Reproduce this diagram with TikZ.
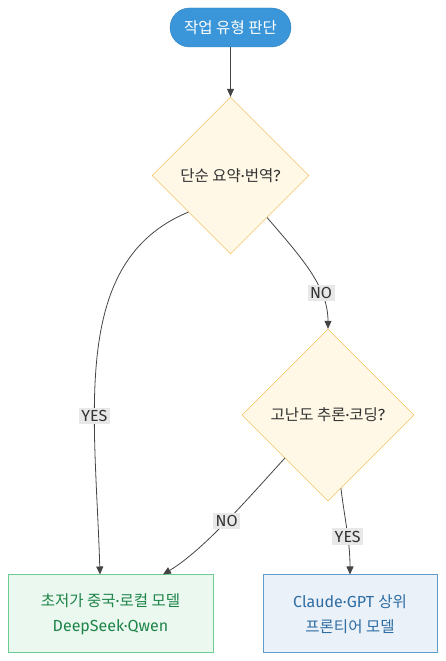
\documentclass[tikz,border=0pt]{standalone}
\usepackage{fontspec}
\setmainfont{Fira Sans}
\newfontfamily\kr[Scale=0.97]{Noto Sans CJK KR}
\usetikzlibrary{shapes.geometric,arrows.meta}

\definecolor{startfill}{HTML}{3A96D9}
\definecolor{startline}{HTML}{2F82C0}
\definecolor{askfill}{HTML}{FFF8E6}
\definecolor{askline}{HTML}{F5AE35}
\definecolor{cheapfill}{HTML}{EAF8EF}
\definecolor{cheapline}{HTML}{6CCB93}
\definecolor{cheaptext}{HTML}{1E8449}
\definecolor{topfill}{HTML}{EAF1F8}
\definecolor{topline}{HTML}{5F9CCB}
\definecolor{toptext}{HTML}{2E6DA4}
\definecolor{edgegray}{HTML}{444444}
\definecolor{labelfill}{HTML}{E8E8E8}

\tikzstyle{startnode}=[rectangle,rounded corners=19.5pt,draw=startline,fill=startfill,text=white,minimum width=121pt,minimum height=39pt,font=\fontsize{16}{20}\selectfont]
\tikzstyle{decision}=[diamond,aspect=1,draw=askline,fill=askfill,text=black!80,inner sep=0pt,font=\fontsize{16}{20}\selectfont]
\tikzstyle{modelbox}=[rectangle,line width=1pt,minimum height=78pt,align=center,font=\fontsize{16}{25}\selectfont]
\tikzstyle{edgelabel}=[fill=labelfill,text=black!80,inner sep=2.5pt,font=\fontsize{16}{20}\selectfont]
\tikzstyle{arrowdecorate}=[-{Triangle[length=8pt,width=7pt]},draw=edgegray,line width=0.8pt]

\begin{document}
\begin{tikzpicture}[x=1pt,y=1pt]
  \useasboundingbox (0,0) rectangle (445,661);
  %nodes
  \node[startnode] (start) at (230.5,633.5) {{\kr 작업 유형 판단}};
  \node[decision,minimum size=157pt] (simple) at (230.5,485.5) {{\kr 단순 요약}·{\kr 번역}?};
  \node[decision,minimum size=172pt] (hard) at (328,246) {{\kr 고난도 추론}·{\kr 코딩}?};
  \node[modelbox,draw=cheapline,fill=cheapfill,text=cheaptext,minimum width=205pt] (cheap) at (110.5,47)
    {{\kr 초저가 중국}·{\kr 로컬 모델}\\DeepSeek·Qwen};
  \node[modelbox,draw=topline,fill=topfill,text=toptext,minimum width=174pt] (frontier) at (350,47)
    {Claude·GPT {\kr 상위}\\{\kr 프론티어 모델}};
  \coordinate (cheapyes) at ([xshift=-10.5pt]cheap.north);
  \coordinate (cheapno) at ([xshift=52.5pt]cheap.north);
  %edges
  \draw[arrowdecorate] (start) -- (simple);
  \foreach \startnode/\endnode/\ca/\cb/\lab/\p in {
    simple.221/cheapyes/{70,400}/{95,250}/YES/0.66,
    simple.311/hard.north/{300,405}/{328,375}/NO/0.7,
    hard.225/cheapno/{250,165}/{205,112}/NO/0.5,
    hard.280/frontier.north/{345,140}/{350,120}/YES/0.57}
  {
    \draw[arrowdecorate] (\startnode) .. controls (\ca) and (\cb) .. (\endnode) node[edgelabel,pos=\p] {\lab};
  };
\end{tikzpicture}
\end{document}
